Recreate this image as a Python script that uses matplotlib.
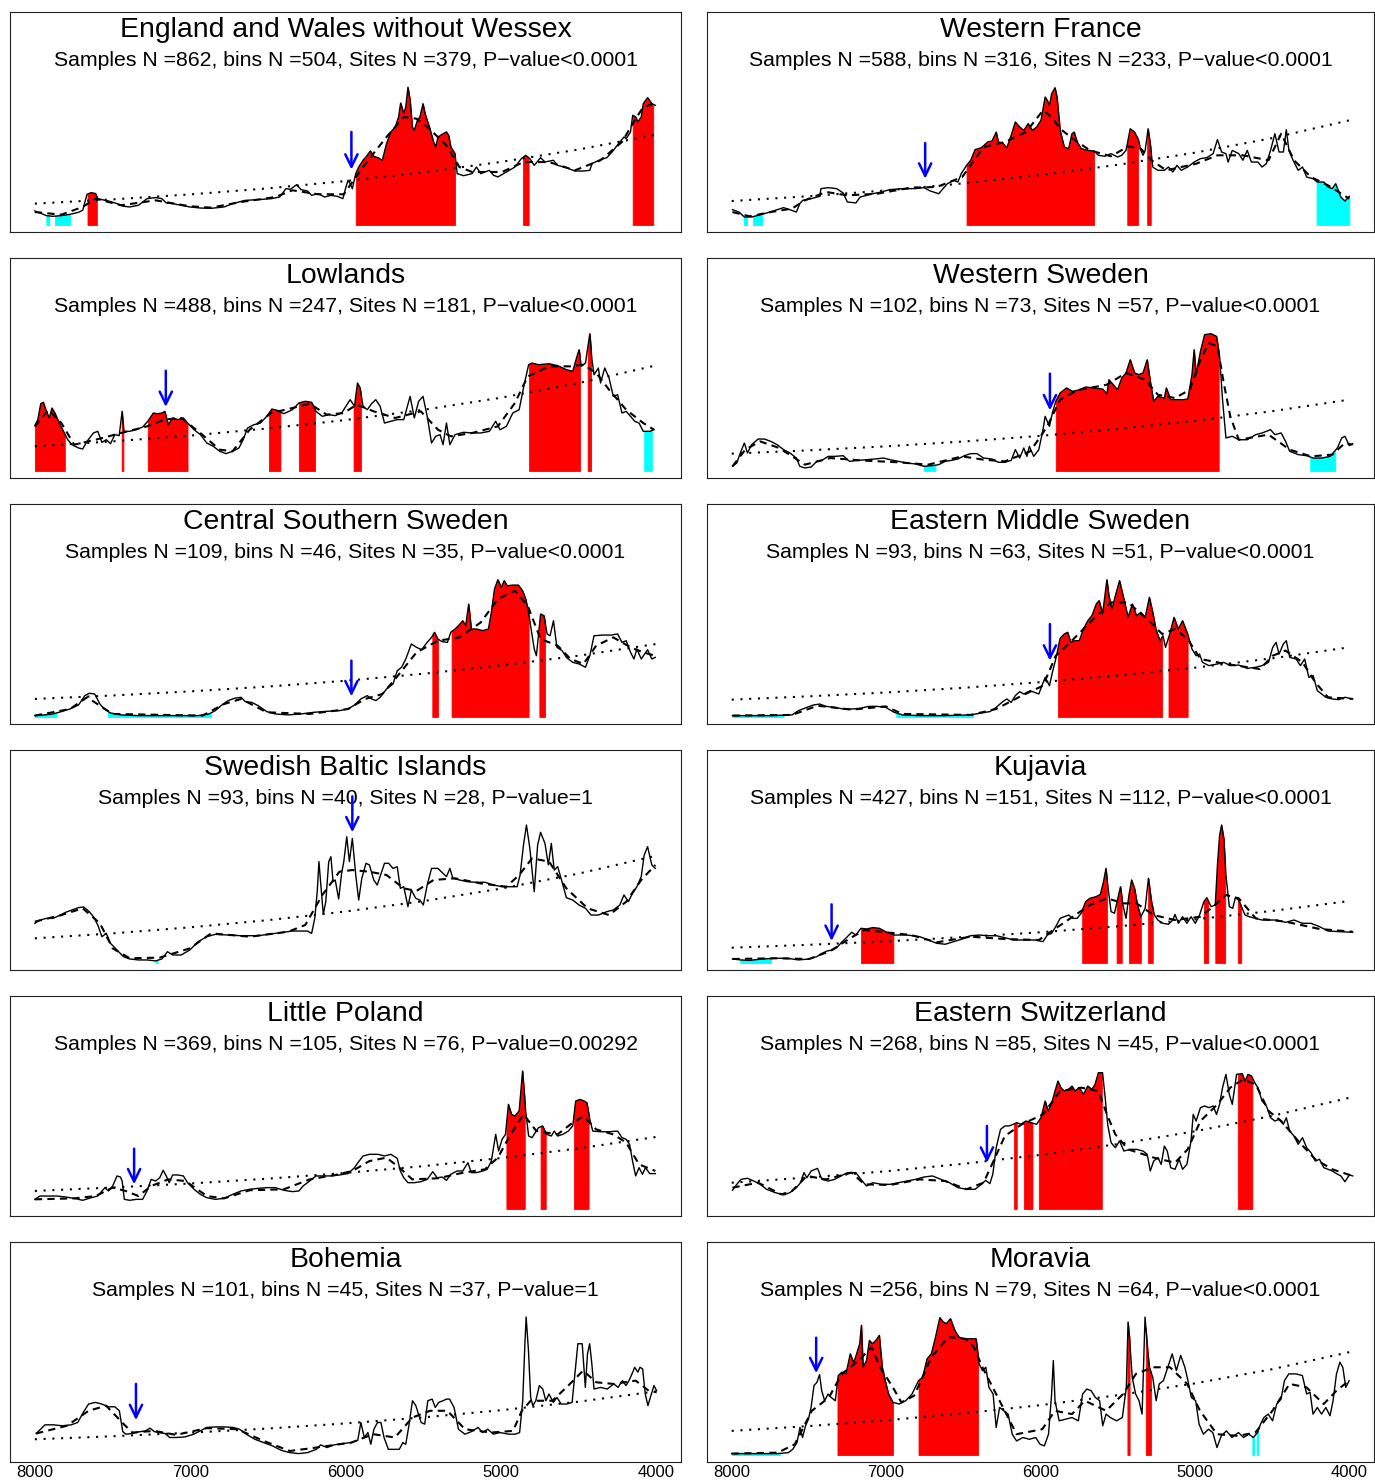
import numpy as np
import matplotlib.pyplot as plt

plt.rcParams['font.family'] = ['Liberation Sans', 'DejaVu Sans']

# years BP for the fitted (dotted) exponential null model
trend_years = [8000, 7500, 7000, 6500, 6000, 5500, 5000, 4500, 4000]
tick_years = [8000, 7000, 6000, 5000, 4000]

# ---------------- England and Wales without Wessex
ew_spd = [(8000, 10.2), (7967, 8.7), (7926, 6.8), (7884, 6.3), (7829, 6.8), (7774, 7.7), (7719, 9.2), (7692, 10.7),
          (7664, 22.3), (7637, 23.5), (7609, 22.8), (7595, 19.1), (7568, 18.4), (7526, 17.4), (7471, 15.5), (7430, 13.6),
          (7389, 13.1), (7333, 14.3), (7278, 19.1), (7223, 19.9), (7182, 19.1), (7154, 16.0), (7113, 15.5), (7058, 14.3),
          (7003, 13.1), (6934, 12.3), (6865, 12.1), (6782, 13.1), (6727, 15.5), (6645, 17.9), (6562, 18.4), (6479, 19.1),
          (6424, 20.3), (6383, 26.4), (6355, 25.9), (6314, 29.3), (6287, 25.7), (6245, 24.7), (6218, 21.5), (6176, 22.8),
          (6135, 20.3), (6094, 21.5), (6052, 20.8), (6017, 19.1), (5997, 27.6), (5984, 32.4), (5970, 30.0), (5956, 26.4),
          (5934, 37.3), (5915, 42.1), (5887, 47.0), (5860, 50.6), (5840, 53.8), (5818, 49.9), (5791, 48.9), (5763, 47.0),
          (5736, 59.1), (5708, 67.6), (5680, 71.2), (5658, 78.5), (5645, 88.6), (5625, 80.9), (5612, 85.7), (5598, 100.0),
          (5584, 90.6), (5570, 71.2), (5557, 68.8), (5537, 76.0), (5521, 78.5), (5501, 88.1), (5488, 80.9), (5460, 71.2),
          (5433, 60.3), (5419, 56.7), (5405, 63.9), (5377, 65.9), (5350, 67.6), (5336, 65.1), (5322, 56.7), (5295, 51.8),
          (5281, 37.3), (5240, 35.8), (5185, 37.3), (5157, 42.1), (5129, 37.3), (5074, 39.7), (5047, 36.1), (5019, 34.9),
          (4964, 38.5), (4909, 42.1), (4868, 48.2), (4840, 50.6), (4813, 48.2), (4785, 43.3), (4744, 48.9), (4716, 45.8),
          (4661, 47.0), (4634, 43.3), (4578, 41.6), (4523, 39.2), (4468, 39.2), (4427, 39.7), (4413, 44.6), (4358, 47.5),
          (4317, 48.9), (4275, 54.2), (4234, 60.3), (4207, 63.9), (4193, 62.7), (4165, 67.6), (4151, 79.7), (4132, 78.5),
          (4118, 74.8), (4096, 78.5), (4083, 88.1), (4055, 92.5), (4027, 88.1), (4005, 86.9)]
ew_env = [(8000, 9.4), (7829, 7.5), (7692, 13.1), (7609, 19.1), (7444, 14.3), (7223, 17.9), (7003, 13.6), (6865, 12.6),
          (6672, 16.7), (6452, 20.3), (6342, 25.2), (6176, 22.3), (6011, 22.3), (5934, 34.8), (5846, 48.2), (5736, 63.9),
          (5625, 78.4), (5543, 77.2), (5460, 69.9), (5350, 57.8), (5267, 42.1), (5185, 38.5), (4992, 38.5), (4854, 45.7),
          (4689, 45.7), (4523, 39.7), (4358, 47.0), (4220, 60.3), (4138, 76.0), (4083, 85.7), (4014, 88.1)]
ew_trend = [15.5, 18.6, 22.2, 26.6, 31.9, 38.2, 45.8, 54.8, 65.6]
ew_red = [(7661, 7601), (5934, 5295), (4857, 4821), (4151, 4019)]
ew_cyan = [(7926, 7907), (7871, 7774)]
ew_arrow = (5962, 67.6, 40.2)

# ---------------- Western France
wf_spd = [(7995, 11.1), (7953, 9.4), (7918, 5.8), (7871, 5.8), (7829, 7.0), (7774, 8.7), (7719, 10.6), (7664, 12.6),
          (7623, 11.1), (7581, 9.4), (7559, 15.5), (7540, 17.9), (7485, 19.1), (7430, 20.8), (7422, 26.4), (7375, 27.1),
          (7320, 26.4), (7278, 23.2), (7251, 16.7), (7196, 16.0), (7168, 20.3), (7127, 21.5), (7086, 22.7), (7030, 24.0),
          (6975, 25.7), (6893, 26.4), (6810, 26.4), (6755, 27.1), (6714, 24.7), (6659, 22.7), (6631, 26.4), (6603, 30.0),
          (6562, 32.4), (6535, 31.2), (6513, 37.3), (6479, 43.3), (6452, 47.0), (6424, 54.7), (6383, 56.1), (6342, 60.3),
          (6314, 61.0), (6287, 67.5), (6273, 60.3), (6245, 59.5), (6218, 56.1), (6190, 65.1), (6163, 74.8), (6135, 71.2),
          (6108, 68.7), (6080, 73.6), (6052, 68.7), (6025, 71.2), (5997, 76.0), (5970, 92.9), (5956, 90.5), (5942, 86.9),
          (5928, 95.3), (5906, 99.7), (5893, 92.9), (5873, 68.7), (5846, 56.6), (5818, 55.4), (5796, 66.3), (5782, 67.5),
          (5763, 60.3), (5736, 55.4), (5694, 54.2), (5653, 53.7), (5625, 50.6), (5584, 49.9), (5543, 51.8), (5501, 49.4),
          (5474, 50.6), (5446, 54.2), (5419, 69.9), (5391, 67.5), (5364, 61.5), (5350, 54.2), (5336, 50.6), (5322, 54.2),
          (5303, 69.9), (5289, 59.0), (5273, 42.1), (5240, 39.7), (5198, 39.7), (5171, 42.1), (5143, 38.5), (5116, 43.3),
          (5088, 39.7), (5047, 42.1), (5005, 45.7), (4964, 48.2), (4923, 48.9), (4882, 51.8), (4854, 62.0), (4827, 53.0),
          (4799, 51.8), (4785, 45.7), (4758, 54.2), (4716, 51.8), (4689, 47.0), (4661, 54.2), (4634, 45.7), (4592, 45.7),
          (4565, 42.1), (4537, 44.6), (4510, 54.2), (4482, 66.3), (4455, 53.0), (4427, 53.0), (4408, 69.2), (4391, 54.2),
          (4364, 47.0), (4331, 39.7), (4303, 42.1), (4276, 34.8), (4234, 33.6), (4207, 31.2), (4165, 31.2), (4138, 27.6),
          (4110, 26.4), (4088, 30.0), (4055, 20.3), (4028, 17.4), (4000, 20.8)]
wf_env = [(7995, 9.4), (7884, 6.3), (7747, 9.4), (7609, 11.9), (7526, 17.9), (7389, 24.0), (7251, 21.5), (7058, 22.7),
          (6838, 27.1), (6672, 27.6), (6507, 34.8), (6369, 56.6), (6231, 60.3), (6094, 67.5), (5984, 83.2), (5928, 78.4),
          (5873, 69.9), (5791, 62.7), (5680, 54.2), (5543, 49.9), (5433, 57.1), (5350, 55.4), (5281, 47.0), (5185, 39.7),
          (4992, 44.5), (4854, 50.6), (4689, 50.6), (4523, 47.0), (4441, 66.3), (4358, 47.0), (4248, 34.8), (4138, 28.8),
          (4000, 19.1)]
wf_trend = [17.4, 20.9, 25.1, 30.2, 36.3, 43.7, 52.5, 63.1, 76.0]
wf_red = [(6479, 5653), (5438, 5369), (5309, 5286)]
wf_cyan = [(7918, 7904), (7862, 7802), (4212, 4000)]
wf_arrow = (6747, 59.5, 33.6)

# ---------------- Lowlands
lo_spd = [(8000, 32.9), (7981, 37.3), (7962, 48.9), (7945, 49.9), (7926, 43.3), (7907, 38.5), (7890, 45.7), (7871, 42.1),
          (7843, 34.8), (7816, 28.8), (7788, 22.7), (7761, 19.1), (7719, 16.7), (7692, 16.0), (7664, 21.5), (7623, 27.6),
          (7595, 28.8), (7568, 20.8), (7540, 22.7), (7513, 19.8), (7485, 26.4), (7457, 25.7), (7438, 43.3), (7427, 28.8),
          (7389, 28.8), (7347, 30.0), (7306, 31.9), (7273, 36.1), (7237, 42.1), (7210, 41.6), (7182, 42.1), (7163, 43.3),
          (7141, 33.6), (7113, 38.5), (7080, 37.3), (7044, 38.5), (7017, 34.8), (6975, 30.0), (6934, 26.4), (6893, 20.3),
          (6851, 17.9), (6810, 14.3), (6769, 12.6), (6727, 14.3), (6686, 16.7), (6659, 22.7), (6631, 31.2), (6590, 33.6),
          (6548, 34.8), (6507, 39.7), (6474, 45.0), (6438, 44.0), (6397, 41.6), (6342, 44.5), (6300, 49.4), (6259, 50.6),
          (6218, 49.9), (6190, 43.3), (6149, 39.7), (6108, 40.9), (6066, 40.2), (6025, 42.1), (5970, 51.8), (5942, 47.0),
          (5923, 63.9), (5906, 60.3), (5887, 47.0), (5860, 44.5), (5832, 48.9), (5805, 51.8), (5777, 47.0), (5749, 34.8),
          (5708, 36.1), (5667, 37.3), (5625, 37.3), (5584, 54.2), (5557, 38.5), (5529, 50.6), (5501, 54.2), (5474, 39.7),
          (5446, 20.3), (5419, 25.2), (5391, 26.4), (5372, 19.1), (5350, 34.8), (5328, 19.1), (5295, 26.4), (5240, 28.1),
          (5185, 27.6), (5129, 27.6), (5074, 28.8), (5033, 36.1), (5005, 30.0), (4964, 32.4), (4923, 42.1), (4882, 44.5),
          (4854, 60.3), (4821, 77.2), (4799, 78.4), (4758, 77.2), (4689, 77.9), (4634, 76.5), (4578, 73.6), (4537, 72.4),
          (4510, 83.2), (4496, 88.1), (4482, 76.0), (4455, 78.4), (4441, 89.3), (4427, 99.7), (4413, 80.8), (4400, 69.9),
          (4372, 74.8), (4358, 63.9), (4331, 74.8), (4303, 67.5), (4276, 54.2), (4248, 55.4), (4220, 42.1), (4193, 43.3),
          (4165, 39.7), (4138, 36.1), (4110, 34.8), (4083, 28.8), (4041, 28.8), (4014, 30.0)]
lo_env = [(8000, 32.4), (7912, 44.5), (7829, 34.8), (7747, 19.1), (7609, 22.7), (7444, 27.6), (7278, 32.4), (7168, 37.3),
          (7058, 38.5), (6948, 28.8), (6810, 15.5), (6727, 14.3), (6617, 30.0), (6479, 42.1), (6342, 45.7), (6231, 48.9),
          (6121, 40.9), (6011, 42.1), (5928, 48.2), (5818, 43.3), (5680, 38.5), (5515, 43.3), (5405, 30.0), (5322, 25.2),
          (5185, 27.6), (5019, 32.4), (4909, 49.4), (4827, 68.7), (4689, 76.0), (4551, 76.0), (4468, 77.2), (4386, 71.2),
          (4303, 59.0), (4193, 44.5), (4083, 34.8), (4014, 30.0)]
lo_trend = [17.9, 21.5, 25.7, 30.9, 37.0, 44.4, 53.2, 63.8, 76.7]
lo_red = [(8000, 7807), (7441, 7430), (7273, 7017), (6493, 6419), (6300, 6196), (5948, 5901), (4818, 4490), (4441, 4419)]
lo_cyan = [(4077, 4028)]
lo_arrow = (7157, 72.8, 46.5)

# ---------------- Western Sweden
ws_spd = [(7995, 3.4), (7967, 5.8), (7940, 14.3), (7918, 20.3), (7898, 13.1), (7871, 19.1), (7829, 23.2), (7788, 23.2),
          (7747, 21.5), (7706, 19.1), (7664, 15.5), (7623, 13.1), (7581, 9.4), (7559, 3.4), (7526, 2.2), (7485, 2.9),
          (7449, 7.0), (7416, 7.7), (7375, 10.6), (7333, 10.6), (7278, 11.1), (7237, 7.0), (7182, 7.7), (7127, 8.2),
          (7072, 8.7), (7017, 9.4), (6975, 8.2), (6920, 7.0), (6865, 5.8), (6810, 5.1), (6755, 3.4), (6700, 3.9),
          (6659, 4.6), (6617, 7.0), (6576, 7.7), (6535, 8.7), (6493, 11.1), (6452, 12.6), (6411, 12.6), (6369, 9.4),
          (6314, 8.7), (6273, 6.3), (6231, 6.3), (6190, 7.7), (6163, 15.5), (6135, 9.4), (6108, 16.7), (6088, 10.6),
          (6072, 17.9), (6044, 10.6), (6011, 15.5), (5984, 30.0), (5970, 39.7), (5942, 32.4), (5923, 42.1), (5901, 50.6),
          (5873, 56.6), (5832, 60.3), (5791, 57.8), (5749, 59.0), (5708, 61.0), (5653, 60.3), (5598, 59.5), (5570, 56.1),
          (5557, 66.3), (5529, 62.7), (5501, 59.0), (5474, 67.5), (5446, 71.2), (5419, 80.8), (5391, 71.2), (5364, 70.0),
          (5336, 71.2), (5309, 80.8), (5289, 65.1), (5267, 50.6), (5240, 54.2), (5198, 53.0), (5185, 60.3), (5157, 51.8),
          (5116, 51.8), (5074, 51.8), (5046, 52.3), (5019, 70.0), (5005, 88.1), (4992, 70.0), (4964, 86.9), (4937, 99.0),
          (4895, 99.7), (4860, 97.8), (4840, 83.2), (4821, 51.8), (4799, 24.0), (4758, 25.2), (4716, 22.7), (4661, 22.7),
          (4606, 26.4), (4565, 27.6), (4537, 28.8), (4510, 30.0), (4482, 26.4), (4441, 27.6), (4413, 21.5), (4386, 14.3),
          (4331, 11.9), (4276, 11.1), (4234, 9.4), (4179, 9.4), (4124, 10.6), (4096, 14.3), (4077, 16.7), (4049, 24.0),
          (4028, 25.2), (4000, 18.4), (3978, 19.8)]
ws_env = [(7995, 3.4), (7912, 15.5), (7816, 21.5), (7692, 16.7), (7526, 4.6), (7361, 9.4), (7168, 7.7), (6920, 6.3),
          (6727, 4.6), (6507, 10.6), (6369, 8.2), (6231, 7.0), (6066, 14.3), (5956, 32.4), (5873, 51.8), (5763, 58.6),
          (5570, 62.7), (5446, 71.2), (5322, 66.3), (5240, 55.4), (5129, 53.0), (5033, 59.0), (4964, 80.8), (4909, 92.9),
          (4854, 90.5), (4813, 63.9), (4771, 39.7), (4716, 22.7), (4523, 26.4), (4386, 15.5), (4248, 10.6), (4110, 11.9),
          (4028, 20.3), (3978, 19.1)]
ws_trend = [12.6, 15.0, 17.9, 21.4, 25.5, 30.5, 36.4, 43.4, 51.8]
ws_red = [(5901, 4846)]
ws_cyan = [(6755, 6681), (4253, 4091)]
ws_arrow = (5939, 70.7, 44.0)

# ---------------- Central Southern Sweden
css_spd = [(8000, 1.0), (7940, 1.5), (7884, 2.2), (7829, 3.9), (7774, 5.8), (7719, 8.7), (7678, 15.5), (7650, 17.2),
           (7615, 16.7), (7581, 9.4), (7554, 5.8), (7513, 2.9), (7444, 1.5), (7333, 1.0), (7196, 1.0), (7058, 1.0),
           (6948, 1.0), (6879, 2.2), (6838, 4.6), (6796, 8.7), (6755, 11.9), (6714, 13.6), (6672, 14.3), (6645, 11.1),
           (6603, 10.6), (6562, 8.2), (6507, 3.9), (6452, 2.2), (6369, 1.5), (6287, 2.2), (6204, 3.4), (6121, 4.1),
           (6039, 4.6), (5984, 5.8), (5942, 8.7), (5901, 13.1), (5860, 15.5), (5832, 13.1), (5804, 11.9), (5777, 14.3),
           (5736, 20.3), (5694, 24.0), (5667, 33.6), (5639, 36.1), (5612, 42.1), (5576, 53.0), (5543, 50.6), (5510, 48.9),
           (5474, 54.2), (5446, 57.8), (5427, 61.5), (5405, 56.6), (5378, 54.7), (5344, 54.2), (5322, 61.5), (5295, 63.9),
           (5273, 66.3), (5245, 69.9), (5226, 66.3), (5207, 82.0), (5190, 63.9), (5157, 63.9), (5116, 62.7), (5080, 63.9),
           (5061, 76.0), (5041, 92.9), (5019, 99.7), (4997, 94.1), (4978, 99.0), (4959, 95.3), (4923, 95.8), (4887, 95.8),
           (4860, 91.7), (4840, 85.7), (4821, 76.0), (4805, 63.9), (4785, 49.4), (4771, 44.5), (4744, 74.8), (4722, 73.6),
           (4702, 60.3), (4683, 59.0), (4661, 69.9), (4639, 50.6), (4606, 48.2), (4578, 43.3), (4537, 39.7), (4496, 38.5),
           (4455, 36.1), (4427, 44.5), (4400, 59.0), (4344, 59.5), (4289, 59.5), (4248, 60.3), (4220, 54.2), (4193, 55.4),
           (4165, 47.0), (4143, 42.1), (4124, 49.4), (4096, 42.1), (4055, 48.9), (4028, 42.1), (4006, 43.3)]
css_env = [(8000, 1.0), (7774, 5.8), (7664, 14.3), (7581, 8.2), (7499, 2.2), (6920, 1.0), (6782, 9.4), (6672, 13.1),
           (6507, 3.4), (6231, 2.2), (5984, 5.8), (5873, 13.1), (5763, 16.7), (5680, 27.6), (5543, 46.9), (5405, 55.4),
           (5267, 57.8), (5129, 68.7), (5019, 85.7), (4909, 91.7), (4827, 80.8), (4744, 56.6), (4634, 51.8), (4551, 42.1),
           (4468, 38.5), (4386, 51.8), (4276, 57.8), (4165, 50.6), (4083, 46.9), (4006, 44.5)]
css_trend = [13.1, 15.6, 18.6, 22.1, 26.3, 31.4, 37.4, 44.5, 53.0]
css_red = [(5441, 5405), (5317, 4821), (4752, 4716)]
css_cyan = [(8000, 7860), (7530, 6865)]
css_arrow = (5962, 40.9, 15.0)

# ---------------- Eastern Middle Sweden
ems_spd = [(7995, 1.0), (7884, 1.0), (7747, 1.0), (7609, 1.5), (7568, 4.6), (7540, 5.8), (7513, 7.0), (7471, 8.7),
           (7430, 9.4), (7389, 7.7), (7333, 7.0), (7278, 5.8), (7223, 5.8), (7168, 6.3), (7113, 7.7), (7058, 7.7),
           (7003, 7.0), (6948, 3.4), (6893, 1.5), (6782, 1.0), (6617, 1.0), (6452, 1.5), (6383, 2.9), (6328, 3.9),
           (6287, 7.0), (6245, 11.1), (6218, 13.1), (6190, 10.6), (6163, 15.5), (6135, 18.4), (6108, 16.7), (6066, 19.1),
           (6039, 17.9), (6011, 16.7), (5970, 28.8), (5942, 22.7), (5923, 32.4), (5901, 42.1), (5873, 57.1), (5846, 60.3),
           (5824, 61.5), (5804, 54.2), (5777, 55.4), (5749, 55.4), (5722, 63.9), (5694, 69.9), (5667, 73.6), (5639, 82.0),
           (5620, 84.5), (5598, 74.8), (5570, 99.7), (5557, 88.1), (5537, 78.4), (5515, 88.1), (5488, 99.0), (5460, 85.7),
           (5433, 72.4), (5405, 82.0), (5378, 73.6), (5350, 76.0), (5322, 72.4), (5295, 86.9), (5273, 76.0), (5253, 63.9),
           (5226, 55.4), (5207, 59.0), (5190, 50.6), (5163, 60.3), (5135, 72.4), (5108, 63.9), (5080, 69.9), (5047, 60.3),
           (5019, 49.4), (4992, 44.5), (4970, 45.7), (4951, 39.7), (4909, 37.3), (4854, 38.5), (4813, 39.7), (4771, 37.3),
           (4716, 37.7), (4661, 35.3), (4606, 36.1), (4565, 37.3), (4523, 39.7), (4496, 50.6), (4474, 54.2), (4455, 45.7),
           (4427, 53.0), (4408, 55.4), (4386, 43.3), (4344, 42.1), (4317, 37.3), (4289, 42.1), (4262, 28.8), (4234, 30.0),
           (4207, 19.1), (4179, 16.7), (4152, 14.3), (4110, 13.1), (4069, 12.6), (4028, 14.3), (3978, 13.1)]
ems_env = [(7995, 1.0), (7609, 1.5), (7444, 8.2), (7223, 5.3), (7003, 7.7), (6893, 2.2), (6452, 1.5), (6287, 5.8),
           (6121, 15.5), (5984, 22.7), (5901, 44.5), (5818, 53.0), (5680, 68.7), (5543, 83.2), (5433, 83.2), (5322, 72.4),
           (5212, 60.3), (5129, 63.9), (5047, 56.6), (4964, 42.1), (4799, 38.5), (4578, 34.8), (4496, 44.5), (4413, 48.2),
           (4303, 39.7), (4220, 25.2), (4138, 14.3), (3978, 13.1)]
ems_trend = [12.6, 15.0, 17.8, 21.2, 25.3, 30.1, 35.8, 42.6, 50.6]
ems_red = [(5887, 5212), (5171, 5047)]
ems_cyan = [(7995, 7664), (6934, 6438)]
ems_arrow = (5939, 67.5, 40.9)

# ---------------- Swedish Baltic Islands
sbi_spd = [(8000, 28.8), (7967, 31.2), (7926, 32.4), (7884, 32.4), (7843, 34.4), (7802, 36.8), (7761, 38.5), (7719, 40.2),
           (7686, 40.7), (7650, 37.3), (7623, 33.6), (7595, 27.6), (7568, 19.1), (7540, 21.5), (7513, 14.3), (7471, 9.4),
           (7430, 4.6), (7389, 2.9), (7333, 2.2), (7278, 2.2), (7223, 1.5), (7182, 2.9), (7146, 8.2), (7113, 5.8),
           (7058, 5.8), (7003, 9.4), (6948, 15.5), (6893, 19.1), (6838, 20.8), (6755, 20.3), (6672, 19.8), (6562, 19.8),
           (6452, 21.5), (6342, 23.2), (6245, 23.2), (6218, 21.5), (6198, 32.4), (6182, 51.8), (6171, 73.6), (6157, 54.2),
           (6143, 35.3), (6127, 44.5), (6108, 73.6), (6094, 77.2), (6080, 59.0), (6066, 60.3), (6044, 46.5), (6025, 65.1),
           (6011, 73.6), (5992, 91.7), (5975, 73.6), (5956, 90.5), (5934, 63.9), (5915, 45.7), (5895, 61.5), (5868, 72.4),
           (5846, 71.2), (5818, 60.3), (5796, 56.6), (5774, 63.9), (5749, 72.4), (5722, 72.4), (5694, 68.7), (5667, 69.9),
           (5647, 54.2), (5625, 55.4), (5598, 40.9), (5576, 53.0), (5548, 47.0), (5521, 45.7), (5499, 42.1), (5474, 56.6),
           (5446, 68.7), (5405, 68.7), (5372, 65.1), (5350, 62.7), (5328, 68.7), (5309, 61.5), (5267, 60.3), (5212, 59.0),
           (5157, 58.6), (5102, 58.6), (5047, 56.6), (4992, 55.4), (4937, 55.4), (4895, 55.4), (4876, 63.9), (4854, 85.7),
           (4835, 100.2), (4813, 83.2), (4785, 51.8), (4763, 85.7), (4744, 94.9), (4716, 86.9), (4694, 71.2), (4675, 86.9),
           (4656, 67.5), (4634, 70.0), (4606, 59.0), (4578, 47.4), (4537, 45.7), (4496, 42.1), (4455, 39.7), (4419, 34.8),
           (4372, 34.8), (4317, 37.3), (4276, 38.5), (4234, 42.1), (4207, 49.4), (4179, 44.5), (4152, 50.6), (4124, 55.4),
           (4096, 62.7), (4077, 78.4), (4055, 84.5), (4028, 71.2), (4005, 68.7)]
sbi_env = [(8000, 30.0), (7829, 34.8), (7692, 39.7), (7581, 28.8), (7499, 10.6), (7389, 3.4), (7196, 3.9), (7003, 10.6),
           (6865, 21.5), (6617, 19.1), (6369, 22.7), (6259, 27.6), (6149, 49.4), (6039, 66.3), (5956, 67.5), (5846, 66.3),
           (5736, 63.9), (5625, 54.2), (5543, 52.3), (5433, 60.3), (5295, 61.5), (5129, 57.8), (4964, 55.4), (4882, 63.9),
           (4799, 76.0), (4689, 73.6), (4578, 54.2), (4441, 39.7), (4303, 34.8), (4193, 44.5), (4096, 60.3), (4005, 71.2)]
sbi_trend = [17.9, 21.5, 25.9, 31.1, 37.4, 44.9, 54.0, 64.9, 77.9]
sbi_red = []
sbi_cyan = [(7223, 7210)]
sbi_arrow = (5956, 121.0, 94.9)

# ---------------- Kujavia
ku_spd = [(7995, 2.9), (7940, 2.2), (7884, 1.9), (7802, 2.9), (7719, 3.4), (7637, 3.4), (7568, 2.2), (7499, 2.9),
          (7449, 4.6), (7416, 7.0), (7383, 8.7), (7347, 9.4), (7320, 11.1), (7284, 15.5), (7251, 19.1), (7223, 22.3),
          (7196, 20.3), (7163, 25.2), (7127, 24.7), (7086, 25.7), (7044, 25.2), (7003, 22.7), (6948, 20.3), (6865, 20.3),
          (6782, 19.1), (6727, 16.7), (6672, 14.3), (6617, 13.6), (6562, 15.5), (6507, 17.4), (6452, 19.8), (6397, 20.3),
          (6342, 19.8), (6287, 19.8), (6231, 18.4), (6176, 16.7), (6108, 16.7), (6039, 16.7), (5984, 15.5), (5956, 20.3),
          (5928, 21.5), (5901, 26.4), (5873, 32.4), (5846, 33.6), (5818, 34.8), (5791, 32.4), (5763, 32.4), (5736, 36.1),
          (5708, 44.5), (5680, 47.0), (5639, 48.2), (5612, 49.9), (5592, 59.0), (5576, 68.7), (5562, 54.2), (5543, 37.3),
          (5521, 36.1), (5499, 47.0), (5482, 55.4), (5466, 42.1), (5446, 32.4), (5427, 49.4), (5410, 60.3), (5391, 54.2),
          (5372, 42.1), (5350, 33.6), (5322, 39.7), (5301, 61.5), (5281, 44.5), (5262, 34.8), (5240, 31.2), (5207, 28.8),
          (5171, 28.1), (5143, 31.2), (5129, 35.3), (5107, 28.8), (5080, 33.6), (5052, 28.8), (5025, 33.6), (4997, 28.8),
          (4970, 34.8), (4942, 44.5), (4923, 47.4), (4895, 40.9), (4868, 42.1), (4854, 71.2), (4840, 92.9), (4827, 100.2),
          (4813, 90.5), (4799, 63.9), (4777, 40.9), (4755, 39.7), (4738, 47.4), (4716, 45.7), (4694, 39.7), (4675, 34.8),
          (4648, 33.6), (4606, 32.4), (4565, 31.2), (4523, 31.2), (4468, 31.2), (4413, 29.5), (4358, 31.2), (4303, 28.8),
          (4248, 28.8), (4193, 26.4), (4138, 23.2), (4055, 22.7), (3978, 22.3)]
ku_env = [(7995, 2.9), (7719, 3.4), (7499, 2.9), (7361, 8.7), (7251, 16.7), (7141, 24.0), (7003, 22.3), (6838, 20.3),
          (6672, 15.0), (6452, 19.1), (6231, 17.4), (6011, 16.7), (5901, 25.2), (5791, 33.6), (5680, 42.1), (5570, 47.0),
          (5460, 43.3), (5378, 43.3), (5267, 34.8), (5129, 31.2), (4964, 33.6), (4882, 40.9), (4799, 49.4), (4716, 47.0),
          (4606, 32.4), (4413, 30.0), (4193, 24.7), (3978, 22.7)]
ku_trend = [11.1, 13.2, 15.7, 18.8, 22.3, 26.6, 31.7, 37.8, 45.0]
ku_red = [(7163, 6953), (5730, 5570), (5507, 5474), (5427, 5350), (5303, 5273), (4942, 4915), (4868, 4804), (4722, 4700)]
ku_cyan = [(7945, 7747)]
ku_arrow = (7353, 42.6, 16.0)

# ---------------- Little Poland
lp_spd = [(8000, 7.0), (7967, 9.4), (7912, 9.4), (7857, 9.4), (7802, 8.7), (7747, 7.7), (7692, 6.3), (7637, 8.2),
          (7595, 9.4), (7568, 13.1), (7548, 15.5), (7526, 13.1), (7499, 16.7), (7471, 24.0), (7449, 23.2), (7438, 20.3),
          (7424, 7.0), (7389, 6.3), (7347, 7.0), (7306, 7.0), (7278, 13.1), (7251, 21.5), (7223, 20.3), (7196, 22.7),
          (7174, 28.1), (7154, 24.0), (7135, 19.1), (7113, 24.7), (7080, 24.7), (7044, 24.0), (7017, 19.1), (6975, 14.3),
          (6934, 10.6), (6893, 8.2), (6838, 7.0), (6782, 7.7), (6727, 10.6), (6672, 13.1), (6617, 14.3), (6562, 15.0),
          (6507, 15.5), (6452, 15.5), (6397, 13.6), (6342, 12.6), (6300, 13.1), (6273, 16.7), (6245, 19.1), (6218, 21.5),
          (6190, 24.0), (6149, 24.0), (6094, 24.0), (6039, 24.7), (5984, 25.7), (5942, 30.0), (5915, 34.4), (5887, 38.5),
          (5846, 39.7), (5791, 39.7), (5749, 38.5), (5708, 39.7), (5667, 36.8), (5647, 27.6), (5625, 22.7), (5598, 19.1),
          (5557, 19.1), (5515, 19.8), (5474, 21.5), (5438, 27.1), (5410, 22.7), (5378, 23.2), (5350, 20.8), (5322, 25.2),
          (5281, 27.6), (5245, 27.6), (5212, 33.6), (5190, 26.4), (5157, 26.4), (5116, 27.6), (5088, 28.8), (5061, 34.8),
          (5033, 54.2), (5014, 42.1), (4992, 50.6), (4970, 54.2), (4951, 76.0), (4931, 68.7), (4909, 67.5), (4882, 71.2),
          (4860, 100.2), (4840, 71.2), (4821, 53.0), (4799, 51.8), (4758, 59.0), (4731, 60.3), (4705, 54.2), (4675, 53.0),
          (4656, 56.6), (4634, 53.0), (4601, 54.2), (4565, 56.6), (4537, 60.3), (4518, 78.4), (4490, 79.6), (4463, 78.4),
          (4446, 77.2), (4427, 65.1), (4408, 56.6), (4358, 56.1), (4303, 56.1), (4248, 56.6), (4220, 51.8), (4193, 50.6),
          (4171, 46.9), (4152, 34.8), (4132, 24.0), (4110, 30.0), (4088, 25.2), (4069, 30.0), (4041, 25.7), (4005, 25.7)]
lp_env = [(8000, 7.0), (7747, 7.7), (7609, 9.4), (7499, 15.5), (7416, 13.1), (7333, 9.4), (7251, 16.7), (7141, 21.5),
          (7030, 20.3), (6893, 9.4), (6782, 7.7), (6617, 13.6), (6397, 14.3), (6231, 21.5), (6066, 24.7), (5956, 27.6),
          (5846, 34.8), (5736, 37.3), (5653, 30.0), (5570, 21.5), (5405, 22.3), (5240, 26.4), (5102, 28.8), (5019, 37.3),
          (4937, 54.2), (4854, 68.7), (4771, 56.6), (4634, 54.2), (4551, 61.5), (4468, 67.5), (4386, 57.8), (4276, 54.2),
          (4193, 48.2), (4110, 32.4), (4005, 27.6)]
lp_trend = [13.1, 15.6, 18.5, 22.0, 26.2, 31.1, 37.0, 44.0, 52.3]
lp_red = [(4964, 4846), (4744, 4711), (4529, 4435)]
lp_cyan = []
lp_arrow = (7361, 43.8, 17.9)

# ---------------- Eastern Switzerland
es_spd = [(7995, 13.6), (7967, 17.9), (7940, 21.5), (7898, 22.3), (7857, 20.3), (7816, 17.9), (7774, 14.3), (7719, 11.9),
          (7664, 10.2), (7623, 11.9), (7581, 15.5), (7554, 19.1), (7532, 26.4), (7513, 22.7), (7485, 27.6), (7444, 29.5),
          (7416, 21.5), (7375, 20.3), (7333, 21.5), (7292, 24.0), (7251, 26.4), (7196, 26.4), (7163, 21.5), (7127, 16.7),
          (7086, 19.1), (7030, 17.9), (6975, 17.9), (6920, 19.1), (6865, 20.3), (6810, 21.5), (6755, 23.2), (6700, 24.0),
          (6645, 21.5), (6590, 19.1), (6535, 15.5), (6479, 14.3), (6424, 14.3), (6383, 17.9), (6355, 20.8), (6328, 18.4),
          (6309, 25.2), (6287, 44.5), (6259, 57.8), (6231, 60.3), (6204, 60.3), (6176, 61.5), (6154, 62.7), (6127, 61.5),
          (6094, 63.9), (6061, 62.7), (6025, 61.5), (5997, 66.3), (5970, 78.4), (5951, 71.2), (5928, 76.5), (5906, 85.7),
          (5887, 92.9), (5868, 88.1), (5846, 85.7), (5818, 86.9), (5796, 89.3), (5777, 85.7), (5749, 88.1), (5722, 83.2),
          (5694, 89.3), (5667, 86.9), (5647, 90.5), (5625, 99.0), (5598, 99.0), (5581, 80.8), (5565, 61.5), (5543, 48.2),
          (5515, 44.5), (5488, 49.4), (5460, 42.1), (5419, 43.3), (5378, 43.3), (5336, 42.1), (5309, 39.7), (5289, 27.6),
          (5267, 34.8), (5240, 37.3), (5218, 32.4), (5198, 45.7), (5179, 42.1), (5157, 30.0), (5129, 28.8), (5102, 36.1),
          (5080, 28.8), (5052, 32.4), (5025, 49.4), (5011, 68.7), (4992, 63.9), (4964, 73.6), (4937, 74.8), (4909, 73.6),
          (4882, 74.8), (4860, 68.7), (4840, 76.0), (4821, 88.1), (4799, 97.8), (4777, 83.2), (4758, 76.0), (4730, 97.8),
          (4694, 98.3), (4675, 92.9), (4656, 97.8), (4634, 96.6), (4612, 91.7), (4592, 88.1), (4565, 78.4), (4537, 74.8),
          (4510, 66.3), (4482, 63.9), (4455, 65.1), (4427, 61.5), (4408, 66.3), (4386, 56.6), (4358, 53.0), (4331, 47.0),
          (4303, 51.8), (4276, 44.5), (4248, 40.9), (4220, 34.8), (4193, 36.1), (4165, 30.0), (4138, 28.8), (4110, 27.6),
          (4083, 25.7), (4055, 24.0), (4028, 19.8), (4000, 24.7), (3978, 24.0)]
es_env = [(7995, 15.5), (7829, 19.1), (7678, 10.6), (7609, 13.1), (7513, 24.0), (7389, 21.5), (7223, 26.4), (7141, 17.9),
          (6975, 17.4), (6782, 21.5), (6617, 20.3), (6479, 14.3), (6369, 19.1), (6314, 32.4), (6231, 53.0), (6121, 61.5),
          (5984, 68.7), (5873, 85.7), (5736, 88.1), (5625, 85.7), (5570, 68.7), (5515, 54.2), (5433, 43.3), (5267, 37.3),
          (5129, 33.6), (5047, 43.3), (4964, 63.9), (4854, 76.0), (4771, 88.1), (4689, 94.1), (4606, 90.5), (4523, 71.2),
          (4441, 63.9), (4331, 49.4), (4220, 36.1), (4110, 28.8), (3978, 24.0)]
es_trend = [19.1, 22.9, 27.4, 32.8, 39.3, 47.1, 56.4, 67.6, 80.8]
es_red = [(6171, 6154), (6108, 6052), (6011, 5603), (4722, 4628)]
es_cyan = []
es_arrow = (6347, 60.3, 33.6)

# ---------------- Bohemia
bo_spd = [(7992, 15.6), (7963, 18.7), (7935, 21.9), (7879, 21.9), (7823, 21.2), (7766, 21.9), (7724, 23.6), (7682, 32.1),
          (7654, 37.0), (7611, 38.2), (7569, 37.0), (7527, 35.0), (7485, 35.0), (7456, 32.1), (7434, 17.0), (7414, 15.1),
          (7372, 15.6), (7330, 16.8), (7287, 17.5), (7259, 19.5), (7231, 17.0), (7203, 16.3), (7161, 15.6), (7132, 12.7),
          (7090, 12.7), (7034, 13.1), (6977, 15.1), (6935, 17.5), (6893, 20.0), (6837, 20.4), (6780, 20.4), (6724, 20.0),
          (6682, 18.7), (6639, 15.1), (6583, 11.4), (6527, 9.0), (6470, 6.6), (6414, 3.4), (6358, 1.7), (6301, 1.0),
          (6245, 1.7), (6188, 4.1), (6160, 7.3), (6118, 5.4), (6076, 7.3), (6020, 8.3), (5963, 9.0), (5921, 10.7),
          (5901, 23.6), (5879, 12.7), (5856, 16.3), (5837, 7.8), (5817, 18.7), (5794, 23.6), (5772, 23.6), (5752, 12.7),
          (5724, 4.1), (5682, 4.1), (5654, 4.1), (5631, 9.0), (5612, 7.8), (5592, 21.2), (5569, 39.4), (5547, 35.8),
          (5527, 28.5), (5513, 23.6), (5490, 22.4), (5470, 39.4), (5442, 40.6), (5422, 34.5), (5400, 38.2), (5372, 39.4),
          (5349, 40.6), (5330, 40.6), (5301, 34.5), (5273, 18.7), (5231, 15.1), (5189, 17.0), (5146, 20.0), (5118, 16.3),
          (5084, 18.7), (5048, 15.1), (5006, 16.3), (4949, 15.1), (4907, 15.1), (4879, 16.3), (4859, 39.4), (4845, 80.8),
          (4837, 100.2), (4822, 75.9), (4808, 41.8), (4794, 35.8), (4775, 39.4), (4752, 50.4), (4730, 47.9), (4710, 39.4),
          (4690, 44.3), (4662, 38.2), (4639, 41.8), (4611, 37.0), (4577, 37.0), (4541, 38.2), (4521, 61.3), (4504, 80.8),
          (4476, 80.8), (4456, 49.1), (4442, 73.5), (4428, 80.8), (4414, 66.2), (4400, 47.9), (4358, 49.1), (4315, 47.9),
          (4273, 51.6), (4245, 49.1), (4217, 54.0), (4194, 50.4), (4175, 54.0), (4160, 57.7), (4138, 63.7), (4118, 60.1),
          (4104, 63.7), (4087, 62.5), (4070, 44.3), (4053, 35.8), (4034, 43.1), (4014, 50.4), (3997, 46.7)]
bo_env = [(7992, 15.6), (7794, 21.2), (7654, 32.1), (7541, 35.8), (7428, 22.4), (7372, 16.3), (7231, 17.5), (7090, 14.6),
          (6893, 19.5), (6696, 18.7), (6527, 10.2), (6358, 2.9), (6188, 5.4), (5963, 9.0), (5822, 15.1), (5682, 12.7),
          (5569, 27.2), (5456, 32.1), (5344, 32.1), (5231, 18.7), (5062, 16.3), (4921, 17.5), (4865, 32.1), (4808, 39.4),
          (4668, 39.4), (4555, 51.6), (4470, 61.3), (4386, 52.8), (4273, 51.6), (4132, 54.0), (4048, 46.7), (3997, 45.5)]
bo_trend = [11.4, 13.6, 16.2, 19.2, 22.9, 27.3, 32.5, 38.7, 46.2]
bo_red = []
bo_cyan = []
bo_arrow = (7349, 51.6, 25.3)

# ---------------- Moravia
mo_spd = [(8000, 1.0), (7867, 1.0), (7702, 1.0), (7633, 1.7), (7605, 4.1), (7577, 9.0), (7558, 20.0), (7541, 12.7),
          (7522, 21.2), (7503, 26.0), (7486, 34.5), (7467, 50.4), (7448, 52.8), (7431, 58.4), (7417, 46.7), (7398, 39.4),
          (7376, 44.3), (7356, 41.8), (7329, 39.4), (7310, 57.7), (7287, 60.1), (7260, 58.9), (7232, 73.5), (7210, 66.9),
          (7191, 73.5), (7171, 80.8), (7160, 94.2), (7149, 63.7), (7127, 68.6), (7108, 83.2), (7089, 80.8), (7066, 83.2),
          (7044, 86.9), (7025, 63.7), (7006, 54.0), (6984, 44.3), (6956, 38.2), (6915, 37.0), (6873, 39.4), (6832, 44.3),
          (6790, 54.0), (6763, 56.4), (6735, 69.8), (6707, 73.5), (6680, 85.6), (6652, 99.8), (6630, 96.6), (6610, 95.4),
          (6583, 99.0), (6555, 90.5), (6528, 85.6), (6500, 84.4), (6459, 84.4), (6417, 84.4), (6398, 66.2), (6376, 61.3),
          (6354, 63.7), (6334, 49.1), (6307, 44.3), (6287, 20.0), (6265, 34.5), (6238, 32.1), (6210, 29.7), (6183, 15.1),
          (6155, 10.2), (6114, 12.7), (6072, 11.4), (6031, 12.7), (6003, 7.8), (5975, 6.6), (5948, 15.1), (5928, 44.3),
          (5917, 68.6), (5906, 39.4), (5879, 24.8), (5837, 26.0), (5796, 27.2), (5755, 24.8), (5727, 44.3), (5700, 47.9),
          (5672, 46.7), (5645, 41.8), (5617, 39.4), (5597, 21.2), (5575, 29.7), (5548, 27.2), (5507, 24.8), (5470, 27.2),
          (5444, 49.1), (5433, 96.6), (5422, 83.2), (5406, 56.4), (5384, 44.3), (5362, 39.4), (5342, 29.7), (5323, 100.2),
          (5306, 75.9), (5295, 63.7), (5273, 56.4), (5251, 39.4), (5231, 51.6), (5204, 54.0), (5176, 63.7), (5147, 73.5),
          (5120, 61.3), (5092, 72.3), (5065, 63.7), (5045, 54.0), (5023, 41.8), (4995, 39.4), (4973, 22.4), (4945, 15.1),
          (4912, 18.7), (4884, 16.3), (4857, 5.4), (4829, 13.9), (4796, 17.5), (4760, 12.7), (4718, 16.3), (4685, 12.7),
          (4650, 15.1), (4622, 12.7), (4594, 16.3), (4575, 22.4), (4553, 27.2), (4525, 29.7), (4497, 24.8), (4470, 37.0),
          (4442, 40.6), (4420, 54.0), (4392, 58.9), (4345, 58.9), (4304, 57.7), (4276, 44.3), (4254, 45.5), (4235, 29.7),
          (4207, 34.5), (4180, 29.7), (4152, 34.5), (4125, 28.5), (4105, 39.4), (4083, 58.9), (4061, 67.4), (4042, 63.7),
          (4023, 49.1), (4001, 54.0)]
mo_env = [(8000, 1.0), (7702, 1.7), (7591, 7.8), (7481, 32.1), (7370, 41.8), (7287, 58.9), (7177, 68.6), (7094, 78.3),
          (7039, 63.7), (6956, 49.1), (6901, 38.2), (6818, 43.1), (6707, 71.0), (6597, 85.6), (6486, 84.4), (6431, 78.3),
          (6376, 63.7), (6265, 39.4), (6155, 15.1), (5989, 18.7), (5906, 32.1), (5796, 29.7), (5713, 39.4), (5575, 32.1),
          (5465, 44.3), (5382, 58.9), (5271, 63.7), (5161, 63.7), (5050, 51.6), (4967, 32.1), (4857, 15.1), (4719, 13.9),
          (4608, 16.3), (4498, 32.1), (4387, 51.6), (4277, 49.1), (4166, 37.0), (4083, 46.7), (4001, 54.0)]
mo_trend = [17.5, 21.0, 25.2, 30.2, 36.2, 43.4, 52.0, 62.3, 74.7]
mo_red = [(7315, 6956), (6790, 6404), (5437, 5423), (5318, 5285)]
mo_cyan = [(8000, 7688), (4628, 4617), (4600, 4589)]
mo_arrow = (7453, 85.2, 59.4)

titles = ["England and Wales without Wessex", "Western France", "Lowlands", "Western Sweden",
          "Central Southern Sweden", "Eastern Middle Sweden", "Swedish Baltic Islands", "Kujavia",
          "Little Poland", "Eastern Switzerland", "Bohemia", "Moravia"]
subtitles = ["Samples N =862, bins N =504, Sites N =379, P\u2212value<0.0001",
             "Samples N =588, bins N =316, Sites N =233, P\u2212value<0.0001",
             "Samples N =488, bins N =247, Sites N =181, P\u2212value<0.0001",
             "Samples N =102, bins N =73, Sites N =57, P\u2212value<0.0001",
             "Samples N =109, bins N =46, Sites N =35, P\u2212value<0.0001",
             "Samples N =93, bins N =63, Sites N =51, P\u2212value<0.0001",
             "Samples N =93, bins N =40, Sites N =28, P\u2212value=1",
             "Samples N =427, bins N =151, Sites N =112, P\u2212value<0.0001",
             "Samples N =369, bins N =105, Sites N =76, P\u2212value=0.00292",
             "Samples N =268, bins N =85, Sites N =45, P\u2212value<0.0001",
             "Samples N =101, bins N =45, Sites N =37, P\u2212value=1",
             "Samples N =256, bins N =79, Sites N =64, P\u2212value<0.0001"]

panels = [
    (ew_spd, ew_env, ew_trend, ew_red, ew_cyan, ew_arrow),
    (wf_spd, wf_env, wf_trend, wf_red, wf_cyan, wf_arrow),
    (lo_spd, lo_env, lo_trend, lo_red, lo_cyan, lo_arrow),
    (ws_spd, ws_env, ws_trend, ws_red, ws_cyan, ws_arrow),
    (css_spd, css_env, css_trend, css_red, css_cyan, css_arrow),
    (ems_spd, ems_env, ems_trend, ems_red, ems_cyan, ems_arrow),
    (sbi_spd, sbi_env, sbi_trend, sbi_red, sbi_cyan, sbi_arrow),
    (ku_spd, ku_env, ku_trend, ku_red, ku_cyan, ku_arrow),
    (lp_spd, lp_env, lp_trend, lp_red, lp_cyan, lp_arrow),
    (es_spd, es_env, es_trend, es_red, es_cyan, es_arrow),
    (bo_spd, bo_env, bo_trend, bo_red, bo_cyan, bo_arrow),
    (mo_spd, mo_env, mo_trend, mo_red, mo_cyan, mo_arrow),
]


def shade(ax, yr, val, spans, color):
    # fill under the observed curve between two dates
    order = np.argsort(yr)
    for old, young in spans:
        inside = (yr < old) & (yr > young)
        xs = np.concatenate([[old], yr[inside], [young]])
        ys = np.interp(xs, yr[order], val[order])
        ax.fill_between(xs, 0, ys, color=color, lw=0.6, zorder=1)


W, H = 1375, 1480
fig = plt.figure(figsize=(W / 100, H / 100), dpi=100)

for i, (spd, env, trend, red, cyan, arrow) in enumerate(panels):
    row, col = i // 2, i % 2
    left, width = (10, 671) if col == 0 else (707, 667)
    top = 12 + 246 * row
    ax = fig.add_axes([left / W, 1 - (top + 220) / H, width / W, 220 / H])

    yr, val = np.array(spd, dtype=float).T
    eyr, evl = np.array(env, dtype=float).T

    shade(ax, yr, val, red, '#ff0000')
    shade(ax, yr, val, cyan, '#00ffff')

    ax.plot(trend_years, trend, color='black', lw=1.5, ls=(0, (1, 3.2)), zorder=2)
    ax.plot(eyr, evl, color='black', lw=1.5, ls=(0, (3.5, 2.5)), zorder=3)
    ax.plot(yr, val, color='black', lw=1.0, zorder=4)

    ax_yr, a_top, a_tip = arrow
    ax.annotate('', xy=(ax_yr, a_tip), xytext=(ax_yr, a_top),
                arrowprops=dict(arrowstyle='->,head_length=0.45,head_width=0.22',
                                color='blue', lw=1.8, mutation_scale=20,
                                shrinkA=0, shrinkB=0), zorder=5)

    ax.text(0.5, 1 - 18 / 220, titles[i], transform=ax.transAxes,
            ha='center', va='center', fontsize=20.4)
    ax.text(0.5, 1 - 49 / 220, subtitles[i], transform=ax.transAxes,
            ha='center', va='center', fontsize=15.3)

    ax.set_xlim(8160, 3840)
    ax.set_ylim(-5.1, 154.7)
    ax.set_yticks([])
    if row == 5:
        ax.set_xticks(tick_years)
        ax.set_xticklabels([str(t) for t in tick_years])
        ax.tick_params(axis='x', length=0, pad=2, labelsize=12)
    else:
        ax.set_xticks([])
    for s in ax.spines.values():
        s.set_linewidth(0.8)
        s.set_color('#222222')

fig.savefig('out.png', dpi=100)
